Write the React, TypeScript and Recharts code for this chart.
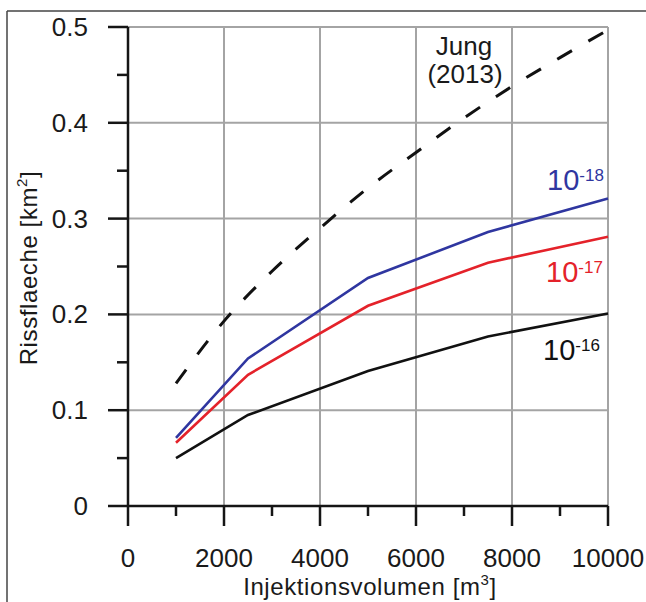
import React from 'react';
import { LineChart, Line, XAxis, YAxis, ReferenceLine } from 'recharts';

// Jung (2013) reference curve
const jungVolumes = [1000, 2000, 3000, 4000, 5000, 6000, 7000, 8000, 9000, 10000];
const jungArea = [0.128, 0.193, 0.245, 0.29, 0.332, 0.369, 0.405, 0.438, 0.468, 0.497];

// Simulations for permeabilities 1e-18, 1e-17, 1e-16
const simVolumes = [1000, 2500, 5000, 7500, 10000];
const perm18 = [0.071, 0.154, 0.238, 0.286, 0.321];
const perm17 = [0.066, 0.137, 0.209, 0.254, 0.281];
const perm16 = [0.05, 0.095, 0.141, 0.177, 0.201];

const xTicks = [0, 1000, 2000, 3000, 4000, 5000, 6000, 7000, 8000, 9000, 10000];
const yTicks = [0, 0.05, 0.1, 0.15, 0.2, 0.25, 0.3, 0.35, 0.4, 0.45, 0.5];
const xGrid = [2000, 4000, 6000, 8000, 10000];
const yGrid = [0.1, 0.2, 0.3, 0.4, 0.5];

const allVolumes = Array.from(new Set([...jungVolumes, ...simVolumes])).sort((a, b) => a - b);
const data = allVolumes.map((v) => {
  const ji = jungVolumes.indexOf(v);
  const si = simVolumes.indexOf(v);
  return {
    v,
    jung: ji >= 0 ? jungArea[ji] : undefined,
    k18: si >= 0 ? perm18[si] : undefined,
    k17: si >= 0 ? perm17[si] : undefined,
    k16: si >= 0 ? perm16[si] : undefined,
  };
});

const FONT = '"Liberation Sans", Arial, Helvetica, sans-serif';
const AXIS = '#151515';
const GRID = '#a4a4a4';
const BLUE = '#2f36a0';
const RED = '#e4222a';

const XTick = (props: any) => {
  const { x, y, payload } = props;
  const v = payload.value as number;
  const major = v % 2000 === 0;
  return (
    <g>
      <line x1={x} x2={x} y1={y} y2={y + (major ? 20 : 10)} stroke={AXIS} strokeWidth={2.5} />
      {major && (
        <text x={x} y={y + 61} textAnchor="middle" fontSize={26} fontFamily={FONT} fill="#1a1a1a">
          {v}
        </text>
      )}
    </g>
  );
};

const YTick = (props: any) => {
  const { x, y, payload } = props;
  const v = payload.value as number;
  const major = Math.round(v * 100) % 10 === 0;
  return (
    <g>
      <line x1={x - (major ? 20 : 11)} x2={x} y1={y} y2={y} stroke={AXIS} strokeWidth={2.5} />
      {major && (
        <text x={x - 40} y={y + 9} textAnchor="end" fontSize={26} fontFamily={FONT} fill="#1a1a1a">
          {v === 0 ? '0' : v.toFixed(1)}
        </text>
      )}
    </g>
  );
};

export default function App() {
  return (
    <div style={{ position: 'absolute', left: 0, top: 0, width: 646, height: 602, background: '#fff' }}>
      <LineChart
        width={646}
        height={602}
        data={data}
        margin={{ top: 27, right: 38, bottom: 36, left: 28 }}
      >
        <XAxis
          dataKey="v"
          type="number"
          domain={[0, 10000]}
          ticks={xTicks}
          interval={0}
          height={60}
          tickSize={0}
          tickMargin={0}
          tickLine={false}
          axisLine={{ stroke: AXIS, strokeWidth: 2.5 }}
          tick={<XTick />}
        />
        <YAxis
          type="number"
          domain={[0, 0.5]}
          ticks={yTicks}
          interval={0}
          width={100}
          tickSize={0}
          tickMargin={0}
          tickLine={false}
          axisLine={{ stroke: AXIS, strokeWidth: 2.5 }}
          tick={<YTick />}
        />
        {xGrid.map((g) => (
          <ReferenceLine key={'x' + g} x={g} stroke={GRID} strokeWidth={2} ifOverflow="visible" />
        ))}
        {yGrid.map((g) => (
          <ReferenceLine key={'y' + g} y={g} stroke={GRID} strokeWidth={2} ifOverflow="visible" />
        ))}
        <Line
          dataKey="jung"
          type="monotone"
          stroke="#111"
          strokeWidth={3}
          strokeDasharray="17 19"
          dot={false}
          activeDot={false}
          connectNulls
          isAnimationActive={false}
        />
        <Line dataKey="k16" type="linear" stroke="#111" strokeWidth={2.6} dot={false} activeDot={false} connectNulls isAnimationActive={false} />
        <Line dataKey="k17" type="linear" stroke={RED} strokeWidth={2.6} dot={false} activeDot={false} connectNulls isAnimationActive={false} />
        <Line dataKey="k18" type="linear" stroke={BLUE} strokeWidth={2.6} dot={false} activeDot={false} connectNulls isAnimationActive={false} />
      </LineChart>
      <svg
        width={646}
        height={602}
        style={{ position: 'absolute', left: 0, top: 0, pointerEvents: 'none' }}
      >
        <line x1={7} y1={11} x2={646} y2={11} stroke="#444" strokeWidth={1.5} />
        <line x1={7} y1={11} x2={7} y2={602} stroke="#444" strokeWidth={1.5} />
        <text x={464} y={55} textAnchor="middle" fontSize={26} fontFamily={FONT} fill="#1a1a1a">Jung</text>
        <text x={465} y={83} textAnchor="middle" fontSize={26} fontFamily={FONT} fill="#1a1a1a">(2013)</text>
        <text x={547} y={190} fontSize={29} fontFamily={FONT} fill={BLUE}>
          10<tspan fontSize={17} dy={-9}>-18</tspan>
        </text>
        <text x={546} y={282} fontSize={29} fontFamily={FONT} fill={RED}>
          10<tspan fontSize={17} dy={-9}>-17</tspan>
        </text>
        <text x={543} y={360} fontSize={29} fontFamily={FONT} fill="#111">
          10<tspan fontSize={17} dy={-9}>-16</tspan>
        </text>
        <text x={370} y={595} textAnchor="middle" fontSize={24} letterSpacing={0.6} fontFamily={FONT} fill="#1a1a1a">
          Injektionsvolumen [m<tspan fontSize={15} dy={-10}>3</tspan><tspan dy={10}>]</tspan>
        </text>
        <text
          x={37}
          y={268}
          textAnchor="middle"
          fontSize={24}
          letterSpacing={0.6}
          fontFamily={FONT}
          fill="#1a1a1a"
          transform="rotate(-90, 37, 268)"
        >
          Rissflaeche [km<tspan fontSize={15} dy={-10}>2</tspan><tspan dy={10}>]</tspan>
        </text>
      </svg>
    </div>
  );
}
